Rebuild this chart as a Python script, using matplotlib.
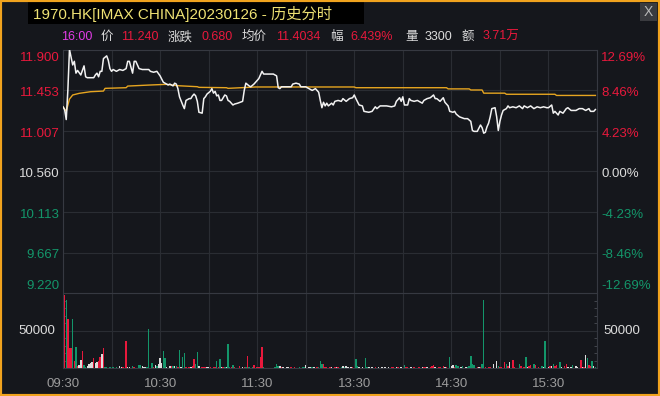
import matplotlib
matplotlib.use("Agg")
import matplotlib.pyplot as plt
from matplotlib.patches import Rectangle
import matplotlib.transforms as mtrans
from matplotlib.ticker import MultipleLocator

# ---------------- data ----------------
prev_close = 10.560
price_levels = [11.900, 11.453, 11.007, 10.560, 10.113, 9.667, 9.220]
price_labels = ["11.900", "11.453", "11.007", "10.560", "10.113", "9.667", "9.220"]
pct_labels = ["12.69%", "8.46%", "4.23%", "0.00%", "-4.23%", "-8.46%", "-12.69%"]
x_tick_times = ["09:30", "10:30", "11:30", "13:30", "14:30", "15:30"]

price_times = [
    "09:30", "09:31", "09:32", "09:33", "09:34", "09:36", "09:37", "09:38", "09:39", "09:41",
    "09:43", "09:44", "09:45", "09:49", "09:50", "09:51", "09:52", "09:53", "09:54", "09:55",
    "09:57", "09:58", "09:59", "10:00", "10:01", "10:03", "10:05", "10:07", "10:09", "10:10",
    "10:11", "10:13", "10:14", "10:15", "10:17", "10:19", "10:23", "10:24", "10:26", "10:28",
    "10:30", "10:32", "10:34", "10:35", "10:36", "10:38", "10:39", "10:40", "10:41", "10:42",
    "10:44", "10:45", "10:46", "10:48", "10:49", "10:50", "10:51", "10:52", "10:53", "10:54",
    "10:56", "10:57", "10:58", "10:59", "11:01", "11:02", "11:03", "11:04", "11:05", "11:06",
    "11:07", "11:08", "11:10", "11:11", "11:12", "11:13", "11:15", "11:16", "11:18", "11:21",
    "11:22", "11:23", "11:25", "11:26", "11:28", "11:29", "11:31", "11:33", "11:34", "11:37",
    "11:40", "11:41", "11:42", "11:43", "11:44", "11:45", "11:47", "11:51", "11:52", "11:54",
    "11:56", "11:57", "12:00", "13:02", "13:04", "13:06", "13:08", "13:09", "13:10", "13:11",
    "13:12", "13:13", "13:14", "13:16", "13:17", "13:18", "13:20", "13:22", "13:23", "13:25",
    "13:27", "13:29", "13:30", "13:31", "13:33", "13:35", "13:36", "13:39", "13:41", "13:43",
    "13:44", "13:46", "13:48", "13:50", "13:53", "13:55", "13:56", "13:58", "13:59", "14:00",
    "14:01", "14:03", "14:04", "14:05", "14:07", "14:09", "14:10", "14:12", "14:13", "14:15",
    "14:17", "14:19", "14:20", "14:21", "14:23", "14:25", "14:26", "14:27", "14:28", "14:29",
    "14:31", "14:32", "14:33", "14:35", "14:38", "14:40", "14:42", "14:43", "14:44", "14:46",
    "14:48", "14:49", "14:50", "14:51", "14:52", "14:53", "14:54", "14:55", "14:57", "14:58",
    "14:59", "15:00", "15:01", "15:02", "15:04", "15:05", "15:06", "15:08", "15:10", "15:12",
    "15:14", "15:15", "15:17", "15:19", "15:21", "15:23", "15:25", "15:27", "15:29", "15:30",
    "15:32", "15:33", "15:34", "15:36", "15:37", "15:39", "15:41", "15:42", "15:44", "15:47",
    "15:49", "15:51", "15:53", "15:55", "15:56", "15:58", "15:59",
]
price_vals = [
    11.27, 11.24, 11.13, 11.45, 11.90, 11.73, 11.77, 11.64, 11.67, 11.62,
    11.72, 11.60, 11.59, 11.59, 11.62, 11.64, 11.60, 11.66, 11.66, 11.80,
    11.83, 11.78, 11.69, 11.66, 11.68, 11.66, 11.68, 11.67, 11.69, 11.77,
    11.77, 11.64, 11.77, 11.77, 11.69, 11.68, 11.68, 11.66, 11.65, 11.66,
    11.61, 11.54, 11.52, 11.51, 11.52, 11.50, 11.53, 11.52, 11.47, 11.38,
    11.29, 11.25, 11.34, 11.36, 11.36, 11.39, 11.41, 11.39, 11.33, 11.21,
    11.20, 11.36, 11.38, 11.41, 11.44, 11.47, 11.42, 11.44, 11.39, 11.40,
    11.34, 11.34, 11.40, 11.39, 11.34, 11.33, 11.29, 11.30, 11.31, 11.33,
    11.45, 11.53, 11.50, 11.49, 11.52, 11.54, 11.58, 11.66, 11.63, 11.63,
    11.63, 11.62, 11.61, 11.48, 11.47, 11.49, 11.49, 11.49, 11.52, 11.53,
    11.52, 11.49, 11.49, 11.47, 11.45, 11.47, 11.43, 11.34, 11.26, 11.32,
    11.28, 11.31, 11.28, 11.31, 11.29, 11.33, 11.34, 11.33, 11.36, 11.33,
    11.36, 11.37, 11.40, 11.36, 11.29, 11.28, 11.22, 11.21, 11.22, 11.27,
    11.25, 11.28, 11.28, 11.28, 11.27, 11.28, 11.33, 11.37, 11.33, 11.38,
    11.29, 11.29, 11.36, 11.34, 11.33, 11.34, 11.33, 11.31, 11.34, 11.36,
    11.37, 11.40, 11.36, 11.36, 11.33, 11.37, 11.32, 11.30, 11.28, 11.22,
    11.21, 11.22, 11.19, 11.16, 11.14, 11.14, 11.11, 11.01, 11.00, 11.00,
    11.07, 11.04, 10.98, 10.99, 11.05, 11.09, 11.16, 11.25, 11.26, 11.16,
    11.01, 11.11, 11.18, 11.23, 11.25, 11.28, 11.26, 11.27, 11.26, 11.28,
    11.25, 11.28, 11.26, 11.28, 11.25, 11.27, 11.26, 11.27, 11.26, 11.26,
    11.29, 11.20, 11.22, 11.18, 11.22, 11.20, 11.25, 11.26, 11.23, 11.23,
    11.25, 11.25, 11.23, 11.25, 11.22, 11.22, 11.24,
]

avg_times = [
    "09:30", "09:32", "09:34", "09:36", "09:40", "09:47", "09:55", "09:56", "10:09", "10:10",
    "10:23", "10:34", "10:41", "10:53", "10:54", "11:11", "11:12", "11:29", "12:00", "13:30",
    "13:31", "14:27", "14:28", "14:41", "14:42", "14:49", "14:50", "15:03", "15:04", "15:34",
    "15:35", "15:59",
]
avg_vals = [
    11.27, 11.22, 11.355, 11.40, 11.418, 11.436, 11.443, 11.473, 11.48, 11.498,
    11.509, 11.517, 11.502, 11.491, 11.484, 11.48, 11.473, 11.488, 11.488, 11.488,
    11.480, 11.480, 11.467, 11.467, 11.455, 11.455, 11.420, 11.420, 11.408, 11.408,
    11.395, 11.395,
]

# volume bars: time, shares, direction (1 up / -1 down / 0 flat)
vol_times = [
    "09:31", "09:32", "09:33", "09:34", "09:35", "09:36", "09:37", "09:38", "09:39", "09:40",
    "09:41", "09:42", "09:43", "09:44", "09:45", "09:46", "09:47", "09:48", "09:49", "09:50",
    "09:51", "09:52", "09:53", "09:54", "09:55", "09:56", "09:57", "09:59", "10:01", "10:03",
    "10:05", "10:06", "10:07", "10:09", "10:10", "10:11", "10:13", "10:14", "10:17", "10:18",
    "10:19", "10:20", "10:21", "10:22", "10:23", "10:25", "10:26", "10:27", "10:28", "10:29",
    "10:30", "10:31", "10:32", "10:33", "10:34", "10:36", "10:37", "10:38", "10:39", "10:40",
    "10:41", "10:42", "10:43", "10:44", "10:45", "10:46", "10:48", "10:49", "10:50", "10:51",
    "10:52", "10:53", "10:54", "10:56", "10:57", "10:58", "10:59", "11:00", "11:01", "11:03",
    "11:04", "11:05", "11:06", "11:07", "11:08", "11:09", "11:10", "11:11", "11:12", "11:13",
    "11:14", "11:15", "11:16", "11:19", "11:21", "11:22", "11:23", "11:24", "11:25", "11:27",
    "11:28", "11:30", "11:31", "11:32", "11:33", "11:34", "11:41", "11:42", "11:43", "11:44",
    "11:45", "11:46", "11:48", "11:49", "11:51", "11:53", "11:56", "11:58", "11:59", "13:00",
    "13:02", "13:03", "13:04", "13:05", "13:07", "13:08", "13:09", "13:10", "13:11", "13:12",
    "13:13", "13:15", "13:16", "13:18", "13:19", "13:20", "13:22", "13:23", "13:24", "13:25",
    "13:26", "13:28", "13:29", "13:31", "13:32", "13:33", "13:35", "13:37", "13:38", "13:39",
    "13:41", "13:43", "13:45", "13:47", "13:49", "13:51", "13:53", "13:54", "13:56", "13:57",
    "13:59", "14:01", "14:02", "14:03", "14:05", "14:07", "14:10", "14:12", "14:13", "14:14",
    "14:15", "14:17", "14:18", "14:19", "14:20", "14:22", "14:23", "14:25", "14:26", "14:27",
    "14:29", "14:30", "14:31", "14:32", "14:33", "14:34", "14:36", "14:37", "14:39", "14:40",
    "14:41", "14:42", "14:43", "14:44", "14:46", "14:47", "14:48", "14:49", "14:50", "14:51",
    "14:53", "14:54", "14:56", "14:58", "14:59", "15:00", "15:01", "15:03", "15:04", "15:05",
    "15:06", "15:08", "15:09", "15:12", "15:13", "15:15", "15:16", "15:17", "15:18", "15:19",
    "15:21", "15:22", "15:24", "15:26", "15:27", "15:28", "15:30", "15:31", "15:32", "15:33",
    "15:34", "15:35", "15:37", "15:38", "15:40", "15:41", "15:42", "15:44", "15:45", "15:47",
    "15:48", "15:50", "15:51", "15:52", "15:53", "15:54", "15:55", "15:56", "15:57", "15:58",
    "15:59",
]
vol_vals = [
    98400, 90800, 65600, 27400, 27400, 65600, 9700, 28800, 3500, 5000,
    11000, 23000, 4400, 2200, 3500, 5300, 6600, 8000, 13300, 6600,
    8000, 9700, 15500, 18600, 27400, 2200, 2200, 2200, 2200, 2200,
    3100, 2200, 2200, 36300, 2200, 2200, 3100, 2200, 4900, 4900,
    3100, 2200, 2200, 2200, 52300, 6600, 2200, 4400, 3100, 6200,
    13300, 7000, 23000, 14200, 2200, 3100, 3100, 3100, 3100, 3100,
    2200, 24300, 2200, 14600, 19900, 2200, 2200, 2200, 3100, 12400,
    5300, 22100, 3100, 2200, 2200, 2200, 2200, 2200, 2200, 2200,
    2200, 9700, 2200, 12400, 2200, 2200, 2200, 2200, 31900, 2200,
    2200, 4900, 2200, 3100, 2200, 2200, 2200, 16800, 2200, 2200,
    4900, 2200, 2200, 15500, 27900, 2200, 2200, 6200, 3100, 3100,
    2200, 2200, 2200, 2200, 2200, 2200, 2200, 2200, 2200, 4900,
    2200, 2200, 2200, 2200, 2200, 2200, 9700, 6200, 6200, 2200,
    2200, 2200, 2200, 2200, 2200, 2200, 2200, 3100, 2200, 3100,
    2200, 2200, 2200, 12400, 3100, 2200, 2200, 13300, 2200, 2200,
    2200, 2200, 2200, 2200, 2200, 2200, 2200, 2200, 2200, 2200,
    2200, 4000, 2200, 2200, 2200, 2200, 2200, 2200, 2200, 2200,
    2200, 2200, 3100, 4900, 2200, 2200, 2200, 3100, 2200, 2200,
    14600, 3100, 4900, 2200, 4900, 3100, 2200, 3100, 2200, 2200,
    3100, 16800, 6200, 4900, 2200, 2200, 2200, 6200, 90800, 2200,
    2200, 2200, 6200, 9700, 3100, 2200, 2200, 8000, 6200, 3100,
    8900, 11000, 2200, 6200, 3100, 2200, 14600, 2200, 3100, 4900,
    6200, 4900, 2200, 3100, 2200, 36300, 2200, 3100, 3100, 6200,
    3100, 4900, 8000, 2200, 3100, 6200, 2200, 2200, 4900, 3100,
    2200, 11000, 2200, 2200, 17300, 13300, 4000, 3100, 9700, 3100,
    2200,
]
vol_dirs = [
    1, -1, 1, 1, 1, -1, 1, -1, 1, 0,
    0, 1, -1, -1, 0, 0, 0, 0, 1, 0,
    0, 1, 1, 0, 1, -1, -1, -1, -1, -1,
    0, 0, 1, 1, 0, 0, -1, 1, -1, -1,
    0, 0, 0, -1, -1, -1, 1, 0, -1, 0,
    0, 0, -1, -1, 0, 0, 1, -1, 0, -1,
    1, -1, 0, -1, -1, 1, 1, 0, 1, 1,
    -1, -1, 0, 1, 1, 1, 0, 0, 1, 1,
    1, -1, 1, -1, 0, 1, -1, 0, -1, -1,
    1, -1, 1, 1, 0, 1, -1, 1, -1, -1,
    1, 1, 1, 1, 1, -1, -1, -1, -1, 0,
    1, 0, 0, 0, 1, 1, -1, -1, -1, 0,
    0, 0, -1, 0, 1, -1, -1, -1, 1, 1,
    1, 1, 0, 1, 0, 1, -1, 0, -1, 0,
    0, 0, 1, -1, -1, 0, 0, -1, -1, 0,
    0, 1, 0, 0, 0, 0, 1, 1, 0, 1,
    0, -1, 1, 1, 0, 1, 1, 0, 1, 1,
    0, 1, 1, 1, 0, 1, 1, 1, 0, 1,
    -1, 0, 0, 1, -1, -1, 0, -1, 0, -1,
    -1, -1, -1, -1, 1, 0, 1, -1, -1, 1,
    1, 1, 0, 0, -1, 1, 1, 1, -1, 1,
    0, 1, 1, -1, 1, 1, -1, 0, 1, 1,
    -1, 1, 1, -1, 0, -1, 0, 1, 0, -1,
    1, 1, -1, 0, 1, 1, 0, 0, -1, 0,
    0, 1, 0, 1, 0, -1, 1, 1, -1, 0,
    -1,
]

info_items = [("16:00", "m"), ("价", "w"), ("11.240", "r"), ("涨跌", "w"), ("0.680", "r"),
              ("均价", "w"), ("11.4034", "r"), ("幅", "w"), ("6.439%", "r"), ("量", "w"),
              ("3300", "w"), ("额", "w"), ("3.71万", "r")]
info_x_px = [61, 101, 121, 168, 202, 242, 276, 330, 350, 405, 425, 462, 483]
title_text = "1970.HK[IMAX CHINA]20230126 - 历史分时"

# ---------------- style ----------------
W, H = 660, 396
BG = "#15171c"
RED = "#e8193c"
GREEN = "#13966a"
WHITE = "#dcdcdc"
GRID = "#2a2d33"
FONT = ["Liberation Sans", "Noto Sans CJK SC", "DejaVu Sans"]
plt.rcParams["font.family"] = FONT


def tmin(s):
    h, m = map(int, s.split(":"))
    t = h * 60 + m
    return t - 570 if t <= 720 else t - 780 + 150


fig = plt.figure(figsize=(W / 100, H / 100), dpi=100, facecolor=BG)

def fx(px):
    return px / W

def fy(py):
    return 1 - py / H

L, R = 63, 597
TOP, MID, BOT = 49.5, 293.3, 368.3
ax_p = fig.add_axes([fx(L), fy(MID), fx(R - L), (MID - TOP) / H])
ax_v = fig.add_axes([fx(L), fy(BOT), fx(R - L), (BOT - MID) / H])

for ax in (ax_p, ax_v):
    ax.set_facecolor(BG)
    ax.set_xlim(0, 330)
    ax.set_xticks(list(range(0, 331, 30)))
    ax.grid(True, color=GRID, lw=0.8)
    ax.set_axisbelow(True)
    for s in ax.spines.values():
        s.set_color("#363941")
        s.set_linewidth(0.8)
    ax.tick_params(length=0, labelleft=False, labelbottom=False)

ax_p.set_ylim(price_levels[-1], price_levels[0])
ax_p.set_yticks(price_levels)
ax_p.spines["bottom"].set_visible(False)

px = [tmin(t) for t in price_times]
ax_p.plot([tmin(t) for t in avg_times], avg_vals, color="#e6a520", lw=1.0, zorder=3)
ax_p.plot(px, price_vals, color="#f2f2f2", lw=1.1, zorder=4)

# labels for price axis
def lab_color(v):
    if abs(v - prev_close) < 1e-6:
        return WHITE
    return RED if v > prev_close else GREEN

trans_l = ax_p.get_yaxis_transform()
for i, (v, lab, pl) in enumerate(zip(price_levels, price_labels, pct_labels)):
    if i == 0:
        va, dy = "top", -2
    elif i == len(price_levels) - 1:
        va, dy = "bottom", 1
    else:
        va, dy = "center", -2
    t = mtrans.offset_copy(trans_l, fig=fig, x=0, y=dy, units="points")
    c = lab_color(v)
    ax_p.text(-0.006, v, lab, transform=t, ha="right", va=va, color=c, fontsize=9.5)
    ax_p.text(1.008, v, pl, transform=t, ha="left", va=va, color=c, fontsize=9.5)

# volume
ax_v.set_ylim(0, 100000)
ax_v.set_yticks([0, 50000, 100000])
ax_v.yaxis.set_minor_locator(MultipleLocator(10000))
ax_v.tick_params(which="minor", length=2, direction="in", color="#4a4d55", left=True, right=True)
vcol = {1: RED, -1: GREEN, 0: WHITE}
ax_v.bar([tmin(t) for t in vol_times], vol_vals, width=0.9,
         color=[vcol[d] for d in vol_dirs], linewidth=0, zorder=3)
tv = ax_v.get_yaxis_transform()
ax_v.text(-0.015, 50000, "50000", transform=tv, ha="right", va="center", color=WHITE, fontsize=9.5)
ax_v.text(1.012, 50000, "50000", transform=tv, ha="left", va="center", color=WHITE, fontsize=9.5)

ax_v.set_xticks([tmin(t) for t in x_tick_times], labels=x_tick_times)
ax_v.set_xticks(list(range(0, 331, 30)), minor=True)
ax_v.grid(True, which="minor", axis="x", color=GRID, lw=0.8)
ax_v.tick_params(axis="x", which="both", length=0, labelbottom=True, pad=7,
                 labelcolor="#9c9c9c", labelsize=9.5)

# title box
fig.patches.append(Rectangle((fx(28), fy(24)), fx(336), 22 / H, transform=fig.transFigure,
                             facecolor="#000000", edgecolor="none", zorder=1))
fig.text(fx(33), fy(13.5), title_text, color="#efe274", fontsize=11, va="center", ha="left", zorder=2)

# close button
fig.patches.append(Rectangle((fx(640), fy(21)), fx(17), 18 / H, transform=fig.transFigure,
                             facecolor="#3a3b3f", edgecolor="none", zorder=1))
fig.text(fx(648.5), fy(12), "X", color="#b8b8b8", fontsize=10, va="center", ha="center", zorder=2)

# info line
info_col = {"m": "#e23ce6", "w": WHITE, "r": RED}
for (txt, c), xp in zip(info_items, info_x_px):
    fig.text(fx(xp), fy(37), txt, color=info_col[c], fontsize=9, va="center", ha="left")

# orange frame
fig.patches.append(Rectangle((0, 0), 1, 1, transform=fig.transFigure, fill=False,
                             edgecolor="#f0a31e", linewidth=3, zorder=10))

fig.savefig("out.png", dpi=100, facecolor=BG)
